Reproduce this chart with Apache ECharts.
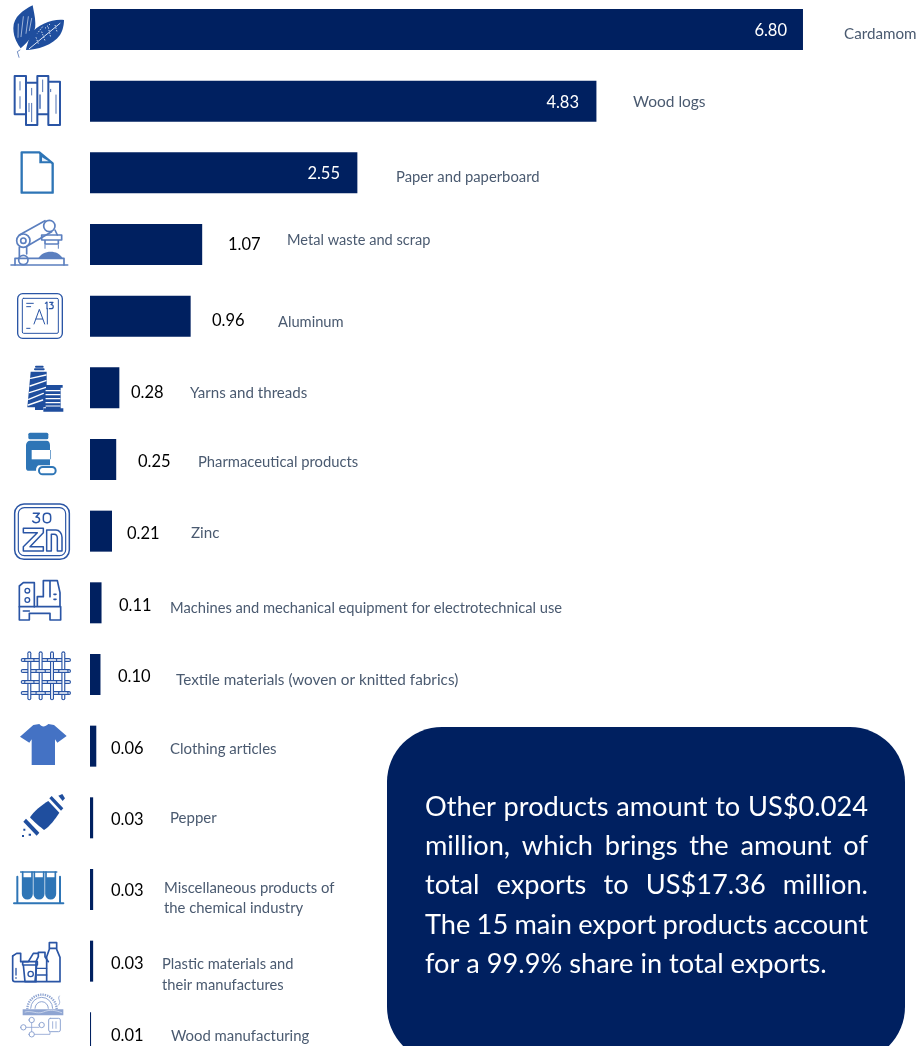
<!DOCTYPE html>
<html>
<head>
<meta charset="utf-8">
<title>Main export products</title>
<style>html,body{margin:0;padding:0;background:#fff;overflow:hidden}#chart{width:918px;height:1046px}</style>
<script src="https://cdn.jsdelivr.net/npm/echarts@6/dist/echarts.min.js"></script>
</head>
<body>
<div id="chart"></div>
<script>
// Export values per product, US$ million
const products = ['Cardamom','Wood logs','Paper and paperboard','Metal waste and scrap','Aluminum','Yarns and threads','Pharmaceutical products','Zinc','Machines and mechanical equipment for electrotechnical use','Textile materials (woven or knitted fabrics)','Clothing articles','Pepper','Miscellaneous products of\nthe chemical industry','Plastic materials and\ntheir manufactures','Wood manufacturing'];
const exportValues = [6.80,4.83,2.55,1.07,0.96,0.28,0.25,0.21,0.11,0.10,0.06,0.03,0.03,0.03,0.01];

// Label anchors on the page, one per product
const valueLabelX = [787,579,340,228,212,131,138,127,119,118,111,111,111,111,111];
const valueLabelY = [31,103,174,244.5,320.5,392.5,461.5,533.5,605.5,676.5,748.5,819.5,890.5,963.5,1035.5];
const nameLabelX = [844,633,396,287,278,190,198,191,170,176,170,170,164,162,171];
const nameLabelY = [34,102,177,240,322,393,462,533,608,680,749,818,898,975,1036];
const nameFontSizes = [15.2,15.5,14.8,14.6,14.7,15.1,14.8,15.2,14.7,15.3,15,15,14.85,14.7,14.9];

const noteLines = ['Other products amount to US$0.024','million, which brings the amount of','total exports to US$17.36 million.','The 15 main export products account','for a 99.9% share in total exports.'];

const NAVY = '#002060';
const BLUE = '#1F4E9E', MID = '#2A55A5', SKY = '#2E75B6', SOFT = '#5B7FBF', SHIRT = '#4472C4', PALE = '#8FA5D2';

// Each pictogram outline becomes a registered shape for the graphic component
let shapeCount = 0;
function pathType(d) {
  const name = 'pictoPath' + (shapeCount++);
  echarts.graphic.registerShape(name, echarts.graphic.extendPath(d));
  return name;
}
const stroke = (d, color, w, dash) => ({type:pathType(d), silent:true, style:{fill:null, stroke:color, lineWidth:w, lineJoin:'round', lineCap:dash ? 'butt' : 'round', lineDash:dash || null}});
const fill = (d, color) => ({type:pathType(d), silent:true, style:{fill:color}});
const circ = (x,y,r) => `M${x-r},${y}a${r},${r} 0 1 0 ${2*r},0a${r},${r} 0 1 0 ${-2*r},0Z`;
const box = (x,y,w,h) => `M${x},${y}h${w}v${h}h${-w}Z`;
const rbox = (x,y,w,h,r) => `M${x+r},${y}h${w-2*r}a${r},${r} 0 0 1 ${r},${r}v${h-2*r}a${r},${r} 0 0 1 ${-r},${r}h${-(w-2*r)}a${r},${r} 0 0 1 ${-r},${-r}v${-(h-2*r)}a${r},${r} 0 0 1 ${r},${-r}Z`;
const sheet = (y, children) => ({type:'group', x:0, y:y, scaleX:1/3, scaleY:1/3, silent:true, children});

// Ribbon: dark band with a white core
const ribbon = (d, w) => [stroke(d, MID, w), stroke(d, '#FFFFFF', w * 0.42)];

// Plain weave: horizontal ribbons pass over the vertical ones at alternate crossings
function weavePicto() {
  const rows = [930, 963, 996, 1029], cols = [88, 122, 156, 190];
  const out = [];
  rows.forEach(y => out.push(...ribbon(`M68,${y}H207`, 12)));
  cols.forEach(x => out.push(...ribbon(`M${x},910V1045`, 12)));
  rows.forEach((y, r) => cols.forEach((x, c) => {
    if ((r + c) % 2 === 0) out.push(...ribbon(`M${x - 10},${y}H${x + 10}`, 12));
  }));
  return out;
}

const iconsTop = [
  // cardamom
  fill('M98,16C70,30 40,50 40,85C40,115 55,135 62,145C85,125 108,100 106,70C106,50 100,30 98,16Z', BLUE),
  stroke('M70,50L63,110M85,50L78,100M55,72L54,112M95,55L88,92', '#DCE6F5', 2),
  fill('M192,60C160,55 110,75 95,100C85,120 80,140 78,150C110,150 160,135 180,105C190,90 192,70 192,60Z', BLUE),
  stroke('M180,70L88,146', '#DCE6F5', 3),
  stroke('M165,75L172,98M145,82L152,112M125,95L135,122M108,112L116,134M128,80L112,100M150,72L135,85', '#DCE6F5', 3, [4,4]),
  stroke('M60,150L52,155L57,172', MID, 2),
  // logs
  stroke(box(44,228,34,115)+box(78,248,34,127)+box(112,228,33,115)+box(145,245,35,130), MID, 6),
  stroke('M60,245V270M60,290V325M95,265V285M95,310V365M128,240V275M152,268V275M168,285V340M87,310V335', MID, 2.5),
  stroke('M120,285V325', SOFT, 5),
  // paper
  stroke('M65,457H118L158,490V578H65Z', SKY, 7),
  fill('M118,457L158,490H118Z', SKY),
  fill('M126,472L146,484H126Z', '#E8F0FA'),
  // robot arm
  stroke('M33,795H203', SOFT, 5),
  stroke('M45,795V775H192V795', SOFT, 5),
  stroke(circ(70,780,14)+circ(70,722,20)+circ(70,722,8)+circ(148,678,17), SOFT, 5),
  stroke('M58,705L135,662M82,738L155,695M58,742V775M80,742V762M165,690L172,705', SOFT, 5),
  stroke('M125,705H185V720H125ZM135,720H175V732H135Z', SOFT, 5),
  fill('M115,775C125,752 172,745 188,775Z', SOFT),
  stroke('M135,745V735M175,745V735', SOFT, 3),
  // aluminium tile
  stroke(rbox(53,881,134,134,15), MID, 4),
  stroke(rbox(67,895,108,105,4), MID, 3),
  stroke('M102,972L118,928L134,972M108,957H128M142,925V972', MID, 3),
  stroke('M136,910L141,906V926M149,907H159L153,914C162,914 162,926 153,926H148', MID, 3.5),
  stroke('M80,910H100M80,920H92M80,985H90', MID, 3)
];

const iconsMid = [
  // thread spools
  stroke('M108,50H128M105,58H131', BLUE, 6),
  fill('M92,65H140V172H130V180H105V172H82Z', BLUE),
  stroke('M92,85L138,75M90,108L138,92M88,128L138,112M86,148L130,130M85,165L128,150', '#FFFFFF', 4),
  fill('M138,105H188V113H182V175H190V185H130V175H138Z', BLUE),
  stroke('M138,122H180M138,134H180M138,146H180M138,158H180M138,168H180', '#FFFFFF', 3.5),
  // pill bottle
  fill(rbox(85,248,60,20,5), SKY),
  fill('M90,272H140C146,272 150,278 150,285V346H118C112,346 108,352 108,362H84C80,362 78,358 78,354V285C78,278 84,272 90,272Z', SKY),
  fill(box(95,300,57,28), '#FFFFFF'),
  fill(box(150,300,2,28), SKY),
  stroke(rbox(117,351,50,22,11), SKY, 6),
  // zinc tile
  stroke(rbox(44,462,164,166,28), MID, 4.5),
  stroke(rbox(55,473,142,144,18), MID, 3.5),
  stroke('M100,490H118L108,501C122,501 122,518 108,518C103,518 100,516 98,513', MID, 4.5),
  stroke(rbox(130,490,22,28,10), MID, 4.5),
  stroke('M70,535H130V548L90,590H130V603H70V590L112,548H70Z', MID, 4.5),
  stroke('M140,603V540H168C178,540 186,550 186,562V603H172V565C172,558 168,553 162,553H154V603Z', MID, 4.5),
  // lathe
  stroke('M58,708L70,698H103V770H58Z', MID, 5),
  stroke(circ(82,722,7)+circ(82,750,7), MID, 4),
  stroke('M103,770H180V728L172,692H130V740H112V770M150,692V740', MID, 5),
  stroke('M58,770V810H88V790H150V810H182V770M70,783H88M162,733H168M162,748H168', MID, 5),
  // woven fabric
  ...weavePicto()
];

const iconsLow = [
  // t-shirt
  fill('M60,110L100,75L118,72C125,82 135,82 145,72L162,75L200,108L172,128L165,118V195H95V118L88,128Z', SHIRT),
  // pepper shaker
  fill('M70,365L78,356L118,398L110,407Z', BLUE),
  fill('M148,295L155,288L190,325L183,332Z', BLUE),
  fill('M175,287L187,282L195,295L188,303Z', BLUE),
  fill('M90,352C100,335 125,315 145,303L178,338C165,358 150,378 132,390C125,385 95,360 90,352Z', BLUE),
  fill(box(70,386,6,6)+box(86,401,7,6)+box(66,405,6,6), BLUE),
  // test tubes
  stroke('M42,610H190M52,530V610M180,530V610', SKY, 6),
  stroke('M62,516H100M97,516H135M132,516H170', SKY, 5),
  stroke('M68,516V582A14,14 0 0 0 96,582V516M103,516V582A14,14 0 0 0 131,582V516M138,516V582A14,14 0 0 0 166,582V516', SKY, 5),
  fill('M68,532H96V582A14,14 0 0 1 68,582ZM103,532H131V582A14,14 0 0 1 103,582ZM138,532H166V582A14,14 0 0 1 138,582Z', SKY),
  // plastic goods
  stroke('M38,768V838Q38,845 45,845H180V772L170,748V728H148V748L140,770V845M148,745H170', MID, 5),
  stroke('M38,768L50,760H62V785L85,785L100,760H115V770L108,785V845M115,757H135V770L145,785', MID, 5),
  stroke('M70,795H110L105,845H75ZM68,795V785H112V795', MID, 5),
  stroke(circ(92,822,8)+'M112,805H140M112,825H140M48,805V825M48,833V835', MID, 4),
  // sawmill
  stroke('M82,928A44,44 0 0 1 170,928', PALE, 7, [4,3]),
  stroke('M105,925A20,20 0 0 1 145,925', PALE, 3),
  stroke('M92,925A32,32 0 0 1 158,925', PALE, 3),
  fill(box(68,928,122,18), PALE),
  stroke('M75,936C95,930 110,944 130,936S165,930 185,938', '#E4EAF6', 2),
  stroke(circ(70,982,8)+circ(95,960,8)+circ(125,975,8)+circ(95,1003,8)+rbox(146,955,35,40,5), PALE, 3),
  stroke('M78,982H117M95,968V995M103,1003H150V995M158,965V985M168,965V985M178,888C170,898 186,902 176,915', PALE, 2.5)
];

const chart = echarts.init(document.getElementById('chart'), null, {renderer:'canvas'});

// Rounded note panel with justified lines, word by word
const PANEL_FONT_SIZE = 27.2;
const ctx = document.createElement('canvas').getContext('2d');
ctx.font = PANEL_FONT_SIZE + 'px Lato, sans-serif';
const noteWords = [];
noteLines.forEach((line, i) => {
  const words = line.split(' ');
  const widths = words.map(w => ctx.measureText(w).width);
  const total = widths.reduce((a,b) => a+b, 0);
  const natural = ctx.measureText(' ').width;
  const left = 425, right = 868;
  const gap = i === noteLines.length - 1 ? natural : (right - left - total) / (words.length - 1);
  let x = left;
  words.forEach((w, k) => {
    noteWords.push({type:'text', silent:true, x, y:807 + i * 39.25, z:5,
      style:{text:w, fill:'#FFFFFF', fontFamily:'Lato', fontSize:PANEL_FONT_SIZE, verticalAlign:'middle'}});
    x += widths[k] + gap;
  });
});

chart.setOption({
  animation:false,
  backgroundColor:'#FFFFFF',
  textStyle:{fontFamily:'Lato'},
  grid:{left:90, top:-6.35, width:838.8, height:1075, outerBoundsMode:'none'},
  xAxis:{type:'value', min:0, max:8, show:false},
  yAxis:{type:'category', inverse:true, data:products, show:false},
  series:[
    {
      name:'Exports', type:'bar', barWidth:41, barGap:'-100%',
      // the three long bars carry their value inside, in white
      data:exportValues.map((v,i) => i < 3 ? {value:v, label:{color:'#FFFFFF'}} : v),
      itemStyle:{color:NAVY},
      label:{
        show:true, position:'right', fontFamily:'Lato', fontSize:16.5, color:'#000000',
        formatter:p => p.value.toFixed(2)
      },
      labelLayout:p => ({
        x:valueLabelX[p.dataIndex], y:valueLabelY[p.dataIndex],
        align:p.dataIndex < 3 ? 'right' : 'left', verticalAlign:'middle'
      })
    },
    {
      name:'Products', type:'bar', barWidth:41, barGap:'-100%',
      data:exportValues.map((v,i) => ({value:v, label:{fontSize:nameFontSizes[i]}})),
      itemStyle:{color:'rgba(0,0,0,0)'},
      label:{
        show:true, position:'right', fontFamily:'Lato', lineHeight:20.5, color:'#4A5A70',
        formatter:p => p.name
      },
      labelLayout:p => ({
        x:nameLabelX[p.dataIndex], y:nameLabelY[p.dataIndex],
        align:'left', verticalAlign:'middle'
      })
    }
  ],
  graphic:[
    {type:'rect', silent:true, z:1, shape:{x:387, y:727, width:518, height:335, r:55}, style:{fill:NAVY}},
    ...noteWords,
    sheet(0, iconsTop), sheet(350, iconsMid), sheet(700, iconsLow)
  ]
});
</script>
</body>
</html>
